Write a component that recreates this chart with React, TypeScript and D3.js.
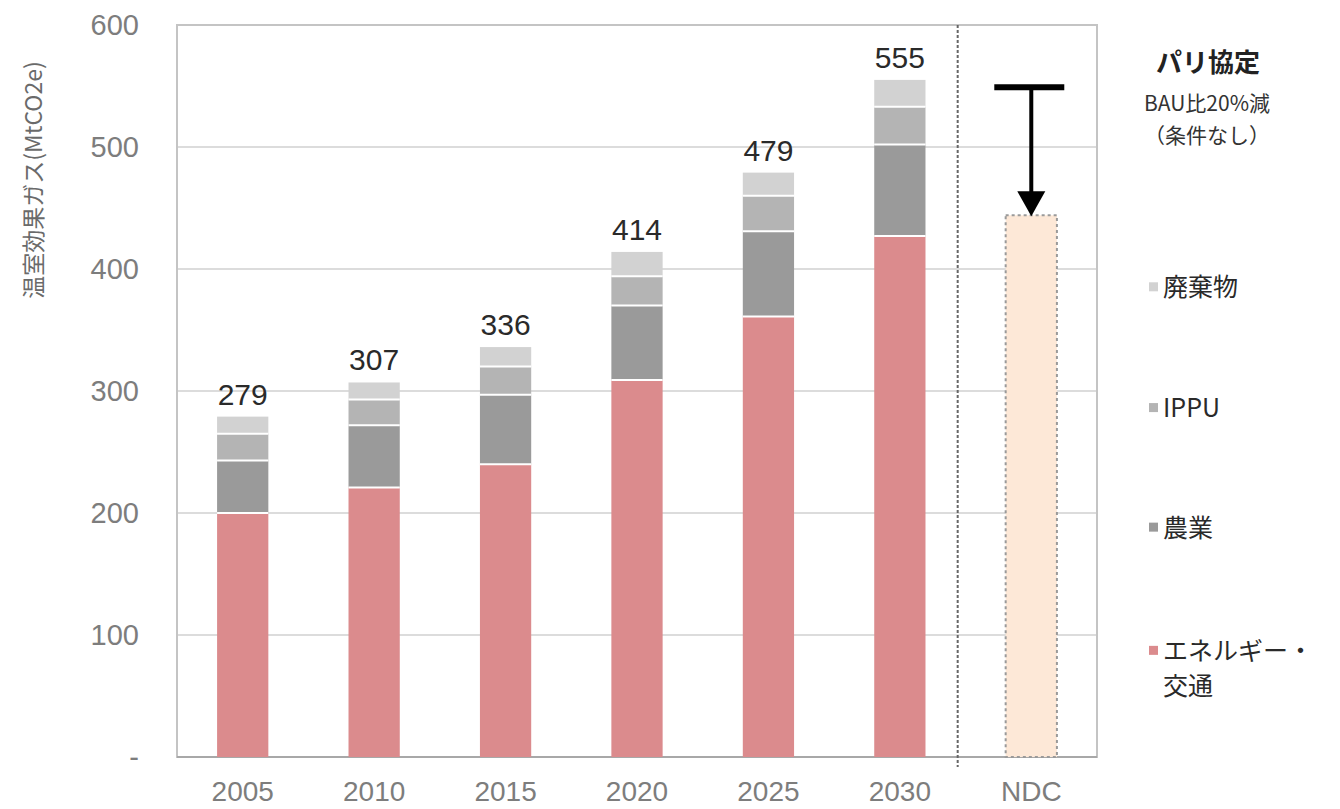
import React from "react";
import * as d3 from "d3";

const categories = ["2005", "2010", "2015", "2020", "2025", "2030", "NDC"];
const years = ["2005", "2010", "2015", "2020", "2025", "2030"];
const energy = [200, 221, 240, 309, 361, 427];
const agriculture = [43, 51, 57, 61, 70, 75];
const ippu = [22, 21, 23, 24, 29, 31];
const waste = [14, 14, 16, 20, 19, 22];
const totals = [279, 307, 336, 414, 479, 555];
const ndcValue = 444;
const yTicks = [0, 100, 200, 300, 400, 500, 600];
const seriesNames = ["エネルギー・交通", "農業", "IPPU", "廃棄物"];
const seriesColors = ["#db8b8d", "#9a9a9a", "#b4b4b4", "#d2d2d2"];

const W = 1340;
const H = 809;
const L = 177, R = 1097, T = 25, B = 757;

export default function App() {
  const x = d3.scaleBand<string>().domain(categories).range([L, R]).paddingInner(0.61).paddingOuter(0.305);
  const y = d3.scaleLinear().domain([0, 600]).range([B, T]);
  const bw = x.bandwidth();
  const step = x.step();

  const rows = years.map((yr, i) => ({
    year: yr,
    e: energy[i],
    a: agriculture[i],
    p: ippu[i],
    w: waste[i],
  }));
  const stack = d3.stack<any>().keys(["e", "a", "p", "w"])(rows);

  const jp = "'Noto Sans CJK JP', 'Liberation Sans', sans-serif";
  const sans = "'Liberation Sans', Arial, sans-serif";

  const ndcX = x("NDC")!;
  const ndcC = ndcX + bw / 2;
  const divX = x("2030")! + bw + step * 0.245;

  const legendY = [y(385), y(286), y(188), y(87)];
  const legendOrder = [3, 2, 1, 0];
  const legendLabels = ["廃棄物", "IPPU", "農業", "エネルギー・"];

  return (
    <svg width={W} height={H} style={{ position: "absolute", left: 0, top: 0, background: "#fff" }}>
      {/* gridlines */}
      {yTicks.filter((t) => t > 0 && t < 600).map((t) => (
        <line key={t} x1={L} x2={R} y1={y(t)} y2={y(t)} stroke="#dcdcdc" strokeWidth={2} />
      ))}
      {/* frame */}
      <rect x={L} y={T} width={R - L} height={B - T} fill="none" stroke="#c4c4c4" strokeWidth={2} />
      <line x1={L} x2={R} y1={B} y2={B} stroke="#a8a8a8" strokeWidth={2} />

      {/* stacked bars */}
      {stack.map((layer, li) =>
        layer.map((d, i) => (
          <rect
            key={li + "-" + i}
            x={x(years[i])!}
            y={y(d[1])}
            width={bw}
            height={y(d[0]) - y(d[1])}
            fill={seriesColors[li]}
          />
        ))
      )}
      {/* separators */}
      {stack.slice(0, 3).map((layer, li) =>
        layer.map((d, i) => (
          <line key={"s" + li + i} x1={x(years[i])!} x2={x(years[i])! + bw} y1={y(d[1])} y2={y(d[1])} stroke="#fff" strokeWidth={2} />
        ))
      )}
      {/* totals */}
      {totals.map((t, i) => (
        <text key={"t" + i} x={x(years[i])! + bw / 2} y={y(t) - 12} textAnchor="middle" fontFamily={sans} fontSize={30} fill="#2a2a2a">
          {t}
        </text>
      ))}

      {/* NDC bar */}
      <rect x={ndcX} y={y(ndcValue)} width={bw} height={B - y(ndcValue)} fill="#fde8d7" stroke="#9a9a9a" strokeWidth={2} strokeDasharray="3,3" />

      {/* divider */}
      <line x1={divX} x2={divX} y1={T} y2={B + 10} stroke="#666" strokeWidth={2} strokeDasharray="3,2" />

      {/* T arrow */}
      <line x1={ndcC - 37} x2={ndcC + 33} y1={y(549)} y2={y(549)} stroke="#000" strokeWidth={6} />
      <line x1={ndcC} x2={ndcC} y1={y(549)} y2={y(ndcValue) - 20} stroke="#000" strokeWidth={4} />
      <path d={`M${ndcC - 14},${y(ndcValue) - 24} L${ndcC + 14},${y(ndcValue) - 24} L${ndcC},${y(ndcValue) + 1} Z`} fill="#000" />

      {/* y ticks */}
      {yTicks.map((t) => (
        <text key={"y" + t} x={139} y={y(t) + 10} textAnchor="end" fontFamily={sans} fontSize={29} fill="#7d7d7d">
          {t === 0 ? "-" : t}
        </text>
      ))}
      {/* x labels */}
      {categories.map((c) => (
        <text key={"x" + c} x={x(c)! + bw / 2} y={801} textAnchor="middle" fontFamily={sans} fontSize={28} fill="#7d7d7d">
          {c}
        </text>
      ))}
      {/* y title */}
      <text transform={`translate(42,180) rotate(-90)`} textAnchor="middle" fontFamily={jp} fontSize={23} fill="#6a6a6a">
        温室効果ガス(MtCO2e)
      </text>

      {/* annotation */}
      <text x={1208} y={72} textAnchor="middle" fontFamily={jp} fontSize={26} fontWeight="bold" fill="#222">パリ協定</text>
      <text x={1207} y={111} textAnchor="middle" fontFamily={jp} fontSize={21} fill="#333">BAU比20%減</text>
      <text x={1207} y={143} textAnchor="middle" fontFamily={jp} fontSize={21} fill="#333">（条件なし）</text>

      {/* legend */}
      {legendOrder.map((si, k) => (
        <g key={"l" + k}>
          <rect x={1149} y={legendY[k] - 5} width={9} height={9} fill={seriesColors[si]} />
          <text x={1163} y={legendY[k] + 9} fontFamily={jp} fontSize={25} fill="#2a2a2a">{legendLabels[k]}</text>
        </g>
      ))}
      <text x={1163} y={legendY[3] + 44} fontFamily={jp} fontSize={25} fill="#2a2a2a">交通</text>
    </svg>
  );
}
